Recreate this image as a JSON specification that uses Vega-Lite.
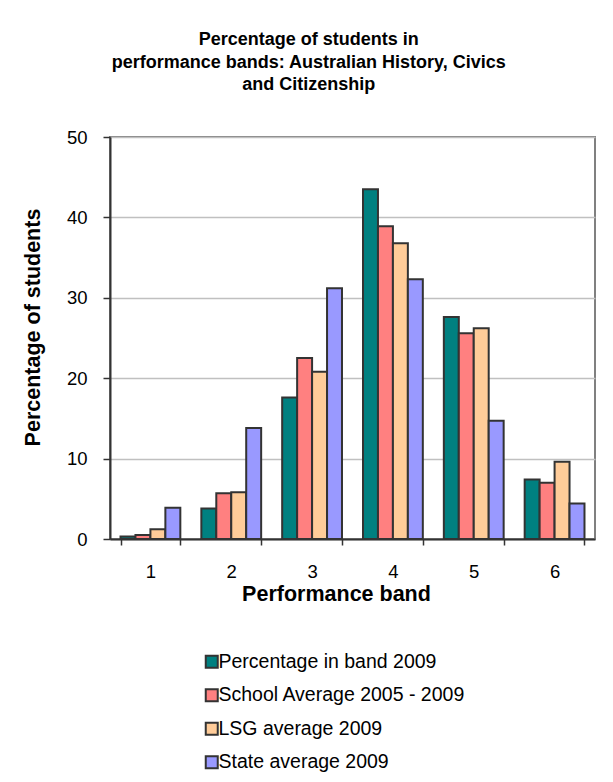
{
  "$schema": "https://vega.github.io/schema/vega-lite/v6.json",
  "width": 485,
  "height": 402,
  "autosize": {"type": "none"},
  "padding": {"left": 110, "top": 137, "right": 18, "bottom": 243},
  "background": "white",
  "title": {
    "text": ["Percentage of students in", "performance bands: Australian History, Civics", "and Citizenship"],
    "anchor": "middle",
    "frame": "bounds",
    "fontSize": 18,
    "fontWeight": "bold",
    "font": "Liberation Sans",
    "color": "#000000",
    "lineHeight": 22.5,
    "offset": 34
  },
  "data": {
    "values": [
      {"band": "1", "series": "Percentage in band 2009", "value": 0.3},
      {"band": "1", "series": "School Average 2005 - 2009", "value": 0.5},
      {"band": "1", "series": "LSG average 2009", "value": 1.2},
      {"band": "1", "series": "State average 2009", "value": 3.9},
      {"band": "2", "series": "Percentage in band 2009", "value": 3.8},
      {"band": "2", "series": "School Average 2005 - 2009", "value": 5.7},
      {"band": "2", "series": "LSG average 2009", "value": 5.8},
      {"band": "2", "series": "State average 2009", "value": 13.8},
      {"band": "3", "series": "Percentage in band 2009", "value": 17.6},
      {"band": "3", "series": "School Average 2005 - 2009", "value": 22.5},
      {"band": "3", "series": "LSG average 2009", "value": 20.8},
      {"band": "3", "series": "State average 2009", "value": 31.2},
      {"band": "4", "series": "Percentage in band 2009", "value": 43.5},
      {"band": "4", "series": "School Average 2005 - 2009", "value": 38.9},
      {"band": "4", "series": "LSG average 2009", "value": 36.8},
      {"band": "4", "series": "State average 2009", "value": 32.3},
      {"band": "5", "series": "Percentage in band 2009", "value": 27.6},
      {"band": "5", "series": "School Average 2005 - 2009", "value": 25.6},
      {"band": "5", "series": "LSG average 2009", "value": 26.2},
      {"band": "5", "series": "State average 2009", "value": 14.7},
      {"band": "6", "series": "Percentage in band 2009", "value": 7.4},
      {"band": "6", "series": "School Average 2005 - 2009", "value": 7.0},
      {"band": "6", "series": "LSG average 2009", "value": 9.6},
      {"band": "6", "series": "State average 2009", "value": 4.4}
    ]
  },
  "mark": {"type": "bar", "stroke": "#333333", "strokeWidth": 2, "strokeJoin": "miter"},
  "encoding": {
    "x": {
      "field": "band",
      "type": "ordinal",
      "scale": {"paddingInner": 0.26, "paddingOuter": 0.13},
      "axis": {
        "title": "Performance band",
        "labelAngle": 0,
        "labelFontSize": 18.5,
        "labelFont": "Liberation Sans",
        "labelColor": "#000000",
        "labelPadding": 17,
        "tickBand": "extent",
        "tickSize": 6,
        "tickColor": "#333333",
        "tickWidth": 1.5,
        "domainColor": "#333333",
        "domainWidth": 2,
        "titleFontSize": 21.5,
        "titleFont": "Liberation Sans",
        "titleFontWeight": "bold",
        "titleColor": "#000000",
        "titlePadding": 3,
        "titleX": 226
      }
    },
    "xOffset": {
      "field": "series",
      "type": "nominal",
      "sort": ["Percentage in band 2009", "School Average 2005 - 2009", "LSG average 2009", "State average 2009"],
      "scale": {"paddingInner": 0, "paddingOuter": 0}
    },
    "y": {
      "field": "value",
      "type": "quantitative",
      "scale": {"domain": [0, 50], "nice": false},
      "axis": {
        "title": "Percentage of students",
        "values": [0, 10, 20, 30, 40, 50],
        "labelFontSize": 18.5,
        "labelFont": "Liberation Sans",
        "labelColor": "#000000",
        "labelPadding": 16,
        "tickSize": 7,
        "tickColor": "#333333",
        "tickWidth": 1.5,
        "domainColor": "#333333",
        "domainWidth": 2,
        "gridColor": "#c0c0c0",
        "gridWidth": 1.5,
        "titleFontSize": 21.5,
        "titleFont": "Liberation Sans",
        "titleFontWeight": "bold",
        "titleColor": "#000000",
        "titlePadding": 22,
        "titleY": 190
      }
    },
    "color": {
      "field": "series",
      "type": "nominal",
      "scale": {
        "domain": ["Percentage in band 2009", "School Average 2005 - 2009", "LSG average 2009", "State average 2009"],
        "range": ["#008080", "#FF8080", "#FFCC99", "#9999FF"]
      },
      "legend": {
        "title": null,
        "orient": "none",
        "legendX": 92,
        "legendY": 515,
        "direction": "vertical",
        "symbolType": "square",
        "symbolSize": 144,
        "symbolStrokeColor": "#333333",
        "symbolStrokeWidth": 2,
        "labelFontSize": 19.5,
        "labelFont": "Liberation Sans",
        "labelColor": "#000000",
        "labelOffset": -3,
        "rowPadding": 12.5,
        "labelLimit": 400
      }
    }
  },
  "config": {
    "view": {"stroke": "#808080", "strokeWidth": 2}
  }
}
